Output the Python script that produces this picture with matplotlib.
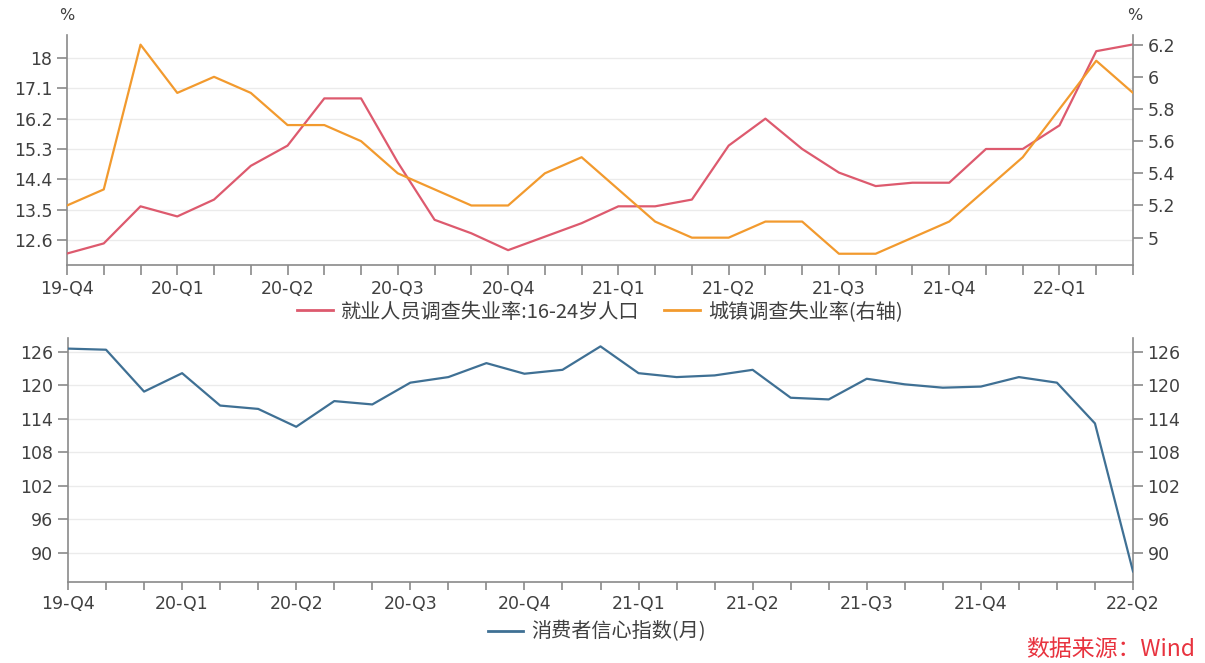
import matplotlib
matplotlib.use("Agg")
import matplotlib.pyplot as plt
from matplotlib.lines import Line2D

plt.rcParams['font.family'] = ['DejaVu Sans', 'Noto Sans CJK SC']
plt.rcParams['axes.unicode_minus'] = False

# monthly data, Dec 2019 .. May 2022
youth_rate = [12.2, 12.5, 13.6, 13.3, 13.8, 14.8, 15.4, 16.8, 16.8, 14.9,
              13.2, 12.8, 12.3, 12.7, 13.1, 13.6, 13.6, 13.8, 15.4, 16.2,
              15.3, 14.6, 14.2, 14.3, 14.3, 15.3, 15.3, 16.0, 18.2, 18.4]
urban_rate = [5.2, 5.3, 6.2, 5.9, 6.0, 5.9, 5.7, 5.7, 5.6, 5.4,
              5.3, 5.2, 5.2, 5.4, 5.5, 5.3, 5.1, 5.0, 5.0, 5.1,
              5.1, 4.9, 4.9, 5.0, 5.1, 5.3, 5.5, 5.8, 6.1, 5.9]
top_quarters = ['19-Q4', '20-Q1', '20-Q2', '20-Q3', '20-Q4',
                '21-Q1', '21-Q2', '21-Q3', '21-Q4', '22-Q1']

# consumer confidence, Dec 2019 .. Apr 2022
confidence = [126.6, 126.4, 118.9, 122.2, 116.4, 115.8, 112.6, 117.2, 116.6, 120.5,
              121.5, 124.0, 122.1, 122.8, 127.0, 122.2, 121.5, 121.8, 122.8, 117.8,
              117.5, 121.2, 120.2, 119.6, 119.8, 121.5, 120.5, 113.2, 86.7]
bottom_quarters = ['19-Q4', '20-Q1', '20-Q2', '20-Q3', '20-Q4',
                   '21-Q1', '21-Q2', '21-Q3', '21-Q4', '', '22-Q2']

left_ticks = [12.6, 13.5, 14.4, 15.3, 16.2, 17.1, 18]
right_ticks = [5, 5.2, 5.4, 5.6, 5.8, 6, 6.2]
cci_ticks = [90, 96, 102, 108, 114, 120, 126]

RED = '#DD5A6E'
ORANGE = '#F29A2E'
BLUE = '#3F7094'
SPINE = '#8a8a8a'
TEXT = '#404040'
GRID = '#ebebeb'
CJK = ['Noto Sans CJK SC', 'DejaVu Sans']

fig = plt.figure(figsize=(12.05, 6.63), dpi=100)


def style_axis(ax):
    ax.spines['top'].set_visible(False)
    for s in ['left', 'right', 'bottom']:
        ax.spines[s].set_color(SPINE)
        ax.spines[s].set_linewidth(1.2)
    ax.tick_params(colors=SPINE, labelcolor=TEXT, labelsize=12.5, length=7, width=1.2)


# ---- top panel: unemployment rates
ax1 = fig.add_axes([67 / 1205, 1 - 265 / 663, 1066 / 1205, 230 / 663])
x_top = list(range(len(youth_rate)))
ax1.plot(x_top, youth_rate, color=RED, lw=1.6, zorder=3)
ax1.set_xlim(0, len(youth_rate) - 1)
ax1.set_ylim(11.86, 18.68)
ax1.set_yticks(left_ticks)
ax1.set_yticklabels(['12.6', '13.5', '14.4', '15.3', '16.2', '17.1', '18'])
ax1.set_xticks(x_top)
ax1.set_xticklabels([top_quarters[i // 3] if i % 3 == 0 else '' for i in x_top])
ax1.grid(axis='y', color=GRID, lw=1)
ax1.set_axisbelow(True)
style_axis(ax1)
ax1.spines['right'].set_visible(False)

ax1r = ax1.twinx()
ax1r.plot(x_top, urban_rate, color=ORANGE, lw=1.6, zorder=3)
ax1r.set_ylim(4.83, 6.26)
ax1r.set_yticks(right_ticks)
ax1r.set_yticklabels(['5', '5.2', '5.4', '5.6', '5.8', '6', '6.2'])
style_axis(ax1r)
ax1r.spines['left'].set_visible(False)
ax1r.spines['bottom'].set_visible(False)

fig.text(67 / 1205, 1 - 15 / 663, '%', ha='center', va='center', fontsize=11.5, color=TEXT)
fig.text(1135 / 1205, 1 - 15 / 663, '%', ha='center', va='center', fontsize=11.5, color=TEXT)

fig.legend([Line2D([], [], color=RED, lw=2), Line2D([], [], color=ORANGE, lw=2)],
           ['就业人员调查失业率:16-24岁人口', '城镇调查失业率(右轴)'],
           loc='center', bbox_to_anchor=(600 / 1205, 1 - 312 / 663), ncol=2,
           frameon=False, prop={'family': CJK, 'size': 14.5}, handlelength=1.75,
           handletextpad=0.4, columnspacing=1.25, labelcolor=TEXT)

# ---- bottom panel: consumer confidence
ax2 = fig.add_axes([68 / 1205, 1 - 582 / 663, 1065 / 1205, 244 / 663])
x_bot = list(range(len(confidence)))
ax2.plot(x_bot, confidence, color=BLUE, lw=1.6, zorder=3)
ax2.set_xlim(0, len(confidence) - 1)
ax2.set_ylim(84.8, 128.5)
ax2.set_yticks(cci_ticks)
ax2.set_xticks(x_bot)
labels = []
for i in x_bot:
    if i == len(confidence) - 1:
        labels.append(bottom_quarters[-1])
    elif i % 3 == 0:
        labels.append(bottom_quarters[i // 3])
    else:
        labels.append('')
ax2.set_xticklabels(labels)
ax2.grid(axis='y', color=GRID, lw=1)
ax2.set_axisbelow(True)
style_axis(ax2)
ax2.tick_params(axis='x', length=6)
ax2.tick_params(axis='y', left=True, right=True, labelleft=True, labelright=True)

fig.legend([Line2D([], [], color=BLUE, lw=2)], ['消费者信心指数(月)'],
           loc='center', bbox_to_anchor=(597 / 1205, 1 - 632 / 663),
           frameon=False, prop={'family': CJK, 'size': 14.5}, handlelength=1.75,
           handletextpad=0.4, labelcolor=TEXT)

fig.text(1195 / 1205, 1 - 650 / 663, '数据来源：Wind', ha='right', va='center',
         fontsize=16.5, color='#E8333F', family=CJK)

fig.savefig('out.png', dpi=100)
